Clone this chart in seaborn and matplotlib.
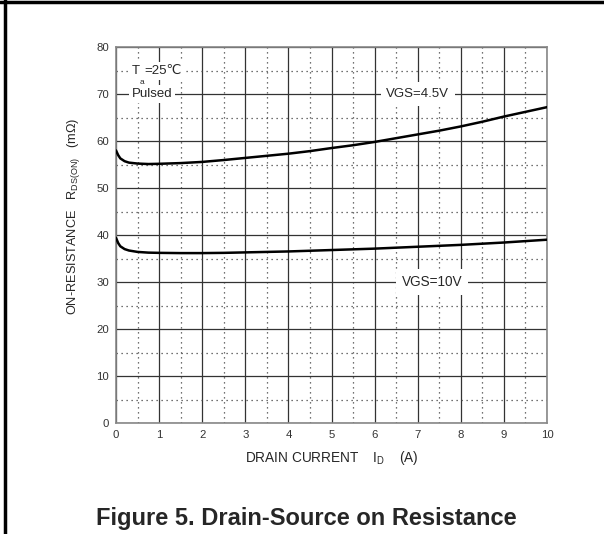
import numpy as np
import pandas as pd
import seaborn as sns
import matplotlib.pyplot as plt
from matplotlib.lines import Line2D

# dados
corrente = [0, 0.05, 0.1, 0.2, 0.3, 0.5, 0.75, 1, 1.5, 2, 2.5, 3, 3.5, 4, 4.5,
            5, 5.5, 6, 6.5, 7, 7.5, 8, 8.5, 9, 9.5, 10]
rds_vgs45 = [58.0, 57.0, 56.3, 55.7, 55.4, 55.2, 55.1, 55.15, 55.3, 55.55, 55.95,
             56.4, 56.85, 57.3, 57.85, 58.5, 59.1, 59.8, 60.6, 61.4, 62.2, 63.1,
             64.1, 65.2, 66.2, 67.2]
rds_vgs10 = [39.4, 38.3, 37.6, 37.0, 36.7, 36.4, 36.25, 36.2, 36.15, 36.15, 36.2,
             36.3, 36.4, 36.5, 36.65, 36.8, 36.95, 37.1, 37.3, 37.5, 37.7, 37.9,
             38.15, 38.4, 38.7, 39.0]
x_ticks = list(range(0, 11))
y_ticks = list(range(0, 90, 10))

sns.set_style('white')
plt.rcParams['font.family'] = ['Liberation Sans', 'DejaVu Sans']
plt.rcParams['mathtext.fontset'] = 'custom'
plt.rcParams['mathtext.rm'] = 'Liberation Sans'
plt.rcParams['mathtext.it'] = 'Liberation Sans'

fig = plt.figure(figsize=(6.04, 5.34), dpi=100)
ax = fig.add_axes([116 / 604, 1 - 423 / 534, 431 / 604, 376 / 534])

df = pd.DataFrame({'id': corrente * 2,
                   'rds': rds_vgs45 + rds_vgs10,
                   'vgs': ['4.5V'] * len(corrente) + ['10V'] * len(corrente)})
sns.lineplot(data=df, x='id', y='rds', units='vgs', estimator=None,
             color='black', linewidth=1.8, ax=ax, zorder=5)

ax.set_xlim(0, 10)
ax.set_ylim(0, 80)
ax.set_xticks(x_ticks)
ax.set_yticks(y_ticks)
ax.set_xticks(np.arange(0.5, 10, 1), minor=True)
ax.set_yticks(np.arange(5, 80, 10), minor=True)
ax.grid(True, which='major', color='#333333', linewidth=0.9, linestyle='-')
ax.grid(True, which='minor', color='#444444', linewidth=0.9, linestyle=(0, (1, 3)))
ax.tick_params(which='both', length=0, labelsize=8.2, labelcolor='#333333', pad=5)
for s in ax.spines.values():
    s.set_color('#888888')
    s.set_linewidth(1.2)

ax.set_xlabel(r'DRAIN CURRENT    I$_{\mathrm{D}}$    (A)', fontsize=9.8)
ax.xaxis.set_label_coords(0.5, -0.068)
ax.set_ylabel(r'ON-RESISTANCE   R$_{\mathrm{DS(ON)}}$   (mΩ)', fontsize=9.2)
ax.yaxis.set_label_coords(-0.078, 0.55)

box = dict(facecolor='white', edgecolor='none', pad=2)
t1 = ax.text(0.36, 74.2, 'T', fontsize=9.5, va='baseline', ha='left', bbox=box, zorder=6)
ax.annotate('a', xy=(1, 0), xycoords=t1, xytext=(0, -1), textcoords='offset points',
            fontsize=6, va='top', ha='left', zorder=7,
            bbox=dict(facecolor='white', edgecolor='none', pad=1.5))
ax.annotate('=25℃', xy=(1, 0), xycoords=t1, xytext=(3.3, 0), textcoords='offset points',
            fontsize=9.5, va='bottom', ha='left', bbox=box, zorder=6)
ax.text(0.36, 70, 'Pulsed', fontsize=9.5, va='center', ha='left', bbox=box, zorder=6)
ax.text(7.0, 70, 'VGS=4.5V', fontsize=9.5, va='center', ha='center',
        bbox=dict(facecolor='white', edgecolor='none', pad=4), zorder=6)
ax.text(7.33, 30, 'VGS=10V', fontsize=9.8, va='center', ha='center',
        bbox=dict(facecolor='white', edgecolor='none', pad=4), zorder=6)

fig.text(306 / 604, 1 - 519 / 534, 'Figure 5. Drain-Source on Resistance',
         fontsize=17, fontweight='bold', ha='center', va='center')

# moldura (só topo e lado esquerdo)
fig.add_artist(Line2D([0, 1], [1 - 1.5 / 534, 1 - 1.5 / 534], color='black', linewidth=2.5))
fig.add_artist(Line2D([4.5 / 604, 4.5 / 604], [0, 1], color='black', linewidth=2.5))

plt.savefig('out.png', dpi=100)
